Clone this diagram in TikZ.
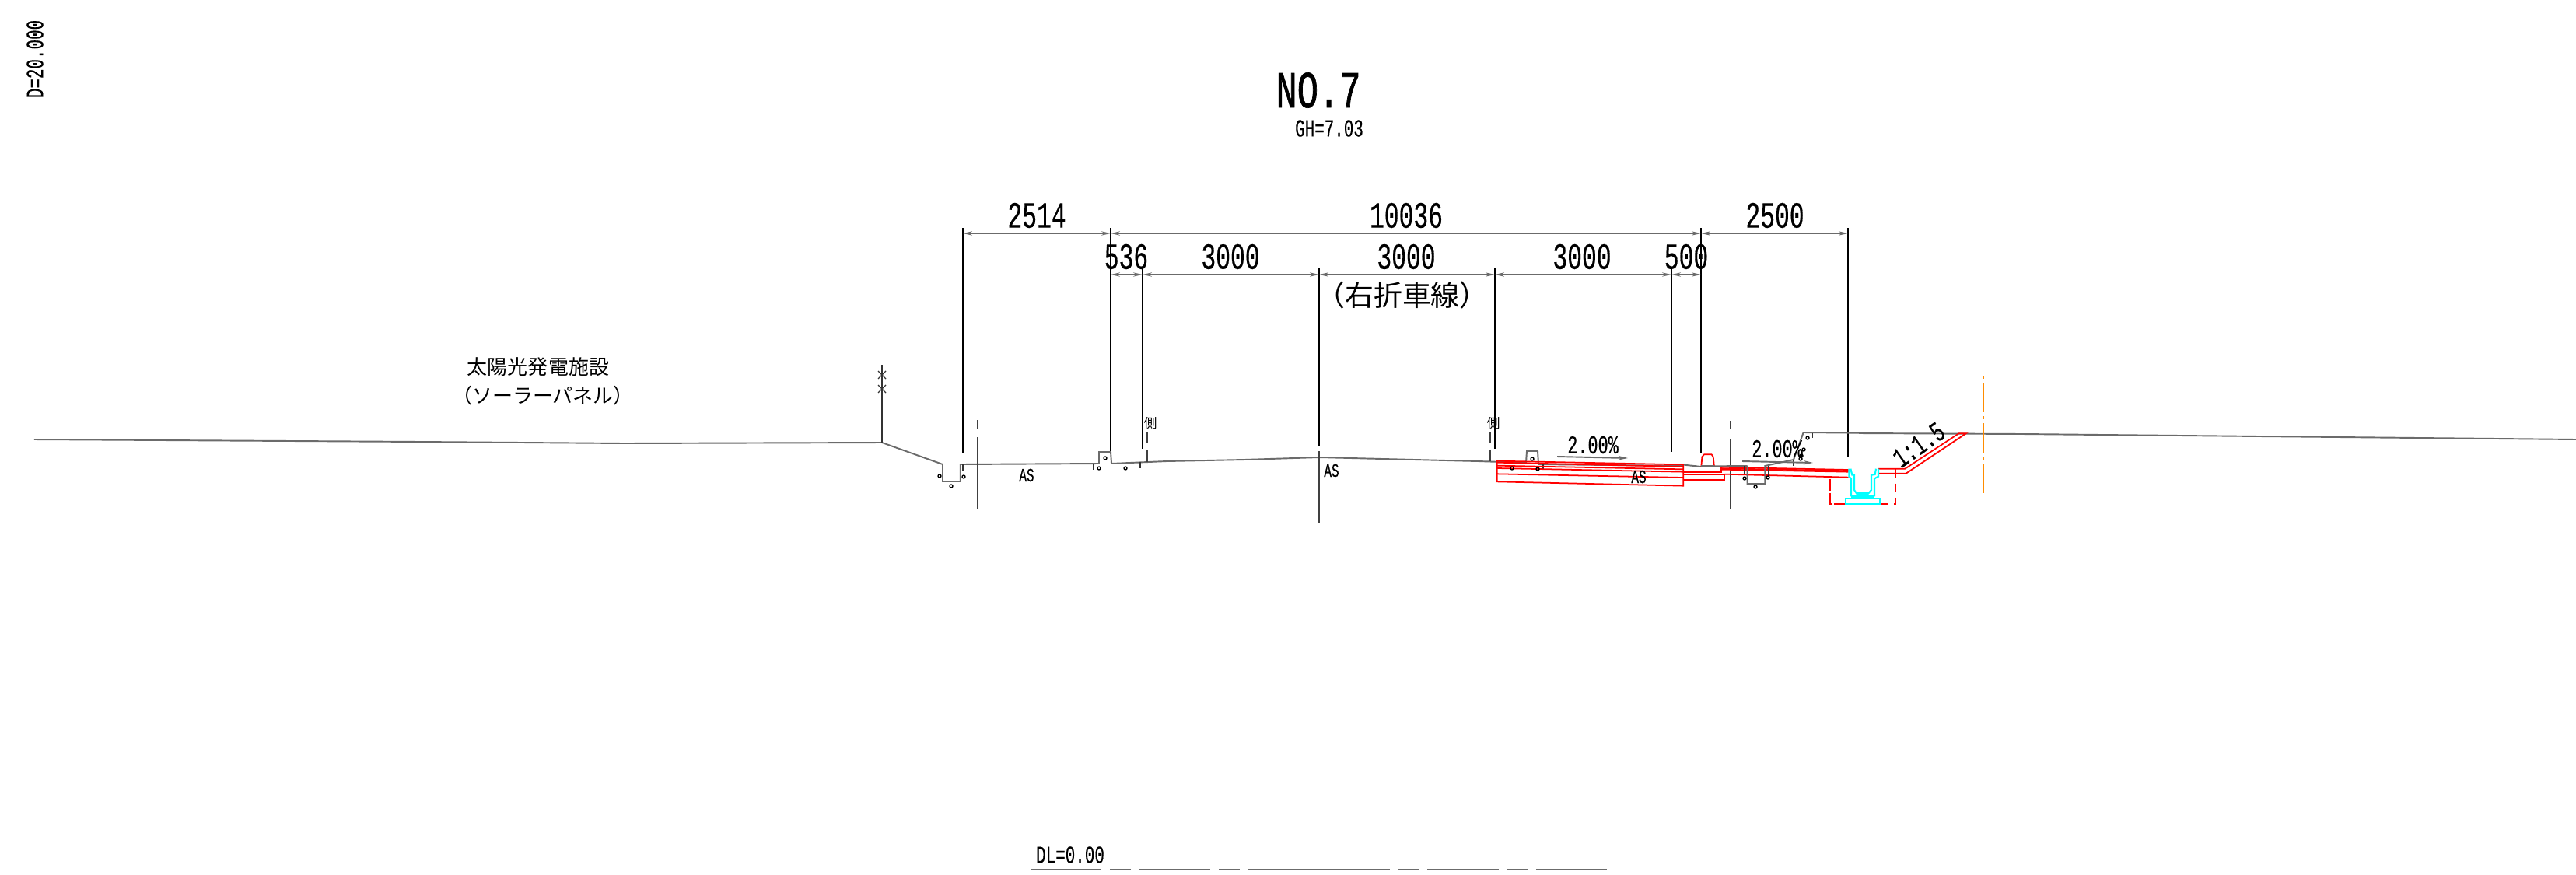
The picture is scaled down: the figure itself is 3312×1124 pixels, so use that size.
\documentclass[tikz,border=0pt]{standalone}
\usepackage{fontspec}
\usetikzlibrary{arrows.meta}
\setmainfont{Liberation Sans}
\newfontfamily\cadfont[FakeStretch=0.66,FakeBold=0.35]{Liberation Mono}
\newfontfamily\titlefont[FakeStretch=0.68,FakeBold=1.0]{Liberation Mono}
\newfontfamily\jpfont{Noto Sans CJK JP}
\definecolor{cadgray}{gray}{0.42}
\definecolor{cadred}{RGB}{255,0,0}
\definecolor{cadcyan}{RGB}{0,255,255}
\definecolor{cadorange}{RGB}{255,140,0}
\tikzset{
  ext/.style={black,line width=0.36pt},
  ground/.style={cadgray,line width=0.55pt},
  dimline/.style={cadgray,line width=0.5pt,{Stealth[length=3.4pt,width=1.5pt]}-{Stealth[length=3.4pt,width=1.5pt]}},
  slopearrow/.style={cadgray,line width=0.55pt,-{Stealth[length=3.4pt,width=1.5pt]}},
  redline/.style={cadred,line width=0.5pt},
  reddash/.style={cadred,line width=0.6pt,dash pattern=on 3pt off 2.2pt},
  cyanline/.style={cadcyan,line width=0.6pt},
  thin line/.style={black!80,line width=0.36pt},
  dashdot/.style={black!75,line width=0.4pt},
  orangeline/.style={cadorange,line width=0.7pt,dash pattern=on 10.8pt off 1.42pt on 1.14pt off 1.42pt},
  bolt/.style={black,line width=0.38pt},
  txt/.style={inner sep=0pt,outer sep=0pt,text=black},
  dimtxt/.style={txt,font=\cadfont\fontsize{13.5pt}{13.5pt}\selectfont},
  slopetxt/.style={txt,font=\cadfont\fontsize{9.4pt}{9.4pt}\selectfont},
  smalltxt/.style={txt,font=\cadfont\fontsize{9pt}{9pt}\selectfont},
  astxt/.style={txt,font=\cadfont\fontsize{6.9pt}{6.9pt}\selectfont},
  jptxt/.style={txt,font=\jpfont\fontsize{7.4pt}{7.4pt}\selectfont},
  jpbig/.style={txt,font=\jpfont\fontsize{10.5pt}{10.5pt}\selectfont},
  sidetxt/.style={txt,font=\jpfont\fontsize{4.8pt}{4.8pt}\selectfont},
  zoomA/.style={shift={(1880,500)},scale=1/3},
  zoomB/.style={shift={(2130,500)},scale=1/3},
  zoomC/.style={shift={(2300,480)},scale=1/3},
}
\begin{document}
\begin{tikzpicture}[x=0.01cm,y=-0.01cm]
\useasboundingbox (0,0) rectangle (3312,1124);
\fill[white] (0,0) rectangle (3312,1124);

% titles
\node[txt,font=\titlefont\fontsize{19pt}{19pt}\selectfont] (title) at (1695,116) {NO.7};
\node[smalltxt] (gh) at (1709,165) {GH=7.03};
\node[smalltxt,rotate=90] (depth) at (45,76) {D=20.000};
\node[smalltxt] (dl) at (1376,1099) {DL=0.00};
\foreach \a/\b in {1325/1416,1427/1454,1465/1556,1567/1594,1604/1787,1798/1825,1835/1927,1938/1965,1975/2066}
  \draw[ground] (\a,1118) -- (\b,1118);

% extension lines
\draw[ext] (1238,293) -- (1238,582);
\draw[ext] (1428,293) -- (1428,580);
\draw[ext] (1469,345) -- (1469,577);
\draw[ext] (1696,345) -- (1696,573);
\draw[ext] (1922,345) -- (1922,577);
\draw[ext] (2149,345) -- (2149,581);
\draw[ext] (2187,293) -- (2187,583);
\draw[ext] (2376,293) -- (2376,587);

% dimension lines
\coordinate (t1) at (1238,300); \coordinate (t2) at (1428,300);
\coordinate (t3) at (2187,300); \coordinate (t4) at (2376,300);
\draw[dimline] (t1) -- (t2);
\draw[dimline] (t2) -- (t3);
\draw[dimline] (t3) -- (t4);
\coordinate (u1) at (1428,353); \coordinate (u2) at (1469,353);
\coordinate (u3) at (1696,353); \coordinate (u4) at (1922,353);
\coordinate (u5) at (2149,353); \coordinate (u6) at (2187,353);
\draw[dimline] (u1) -- (u2);
\draw[dimline] (u2) -- (u3);
\draw[dimline] (u3) -- (u4);
\draw[dimline] (u4) -- (u5);
\draw[dimline] (u5) -- (u6);

\node[dimtxt] (n2514) at (1333,277) {2514};
\node[dimtxt] (n10036) at (1808,277) {10036};
\node[dimtxt] (n2500) at (2282,277) {2500};
\node[dimtxt] (n536) at (1448,330) {536};
\node[dimtxt] (n3000a) at (1582,330) {3000};
\node[dimtxt] (n3000b) at (1808,330) {3000};
\node[dimtxt] (n3000c) at (2034,330) {3000};
\node[dimtxt] (n500) at (2168,330) {500};
\node[jpbig] (rt) at (1803,379) {（右折車線）};

% Japanese notes
\node[jptxt] (solar) at (692,472) {太陽光発電施設};
\node[jptxt] (panel) at (698,509) {（ソーラーパネル）};

% ground, left part
\draw[ground] (44,565) -- (540,568) -- (802,570) -- (1134,569) -- (1212,597);
\draw[thin line] (1134,469) -- (1134,569);
\draw[thin line] (1129,477) -- (1139,487) (1129,487) -- (1139,477);
\draw[thin line] (1129,495) -- (1139,505) (1129,505) -- (1139,495);
\draw[ground] (1212,597) -- (1212,619) -- (1234.7,619) -- (1234.7,597) -- (1413,596) -- (1413,581) -- (1428,581) -- (1429,596) -- (1500,593) -- (1600,591) -- (1696,588) -- (1900,593) -- (1962,595) -- (1963,580) -- (1977,580) -- (1978,597);
\draw[ground] (1978,597) -- (2164,599);

% short ticks
\draw[thin line] (1238,597) -- (1238,605);
\draw[thin line] (1406,596) -- (1406,604);
\draw[thin line] (1466,594) -- (1466,602);
\draw[thin line] (1984,595) -- (1984,603);

% centre and edge lines
\draw[dashdot] (1257,540) -- (1257,552) (1257,562) -- (1257,654);
\draw[dashdot] (1696,580) -- (1696,672);
\draw[dashdot] (1475,556) -- (1475,570) (1475,578) -- (1475,594);
\draw[dashdot] (1916,556) -- (1916,570) (1916,578) -- (1916,593);
\draw[dashdot] (2225,541) -- (2225,552) (2225,564) -- (2225,655);
\node[sidetxt] (sideL) at (1479,544) {側};
\node[sidetxt] (sideR) at (1920,544) {側};

\node[astxt] (asL) at (1320,611) {AS};
\node[astxt] (asC) at (1712,605) {AS};

% red pavement, widening section
\begin{scope}[zoomA]
  \draw[redline] (134,278) -- (134,358) -- (853,374) -- (853,292) -- cycle;
  \draw[redline] (134,284) -- (853,300);
  \draw[redline] (134,296) -- (853,310);
  \draw[redline] (134,306) -- (853,320);
  \draw[redline] (134,328) -- (853,342);
\end{scope}
\node[astxt] (asR) at (2107,613) {AS};

% red pavement and curb, right part
\begin{scope}[zoomB]
  \draw[ground] (105,293) -- (172,300);
  \draw[redline,line join=round] (172,300) -- (175,262) -- (183,253) -- (212,253) -- (218,262) -- (222,300);
  \draw[ground] (172,297) -- (222,297);
  \draw[ground] (222,298) -- (350,297);
  \draw[redline] (105,322) -- (250,322) -- (250,302);
  \draw[redline] (105,330) -- (262,330) -- (262,350) -- (105,350);
  \draw[redline] (250,302) -- (740,312);
  \draw[redline] (250,307) -- (740,316);
  \draw[redline] (250,311) -- (740,320);
  \draw[redline] (262,329) -- (740,341);
  \draw[reddash] (670,347) -- (670,443) -- (730,443);
  \draw[ground] (350,297) -- (350,366) -- (418,366) -- (418,297) -- (528,273) -- (566,168) -- (780,170);
  \draw[thin line] (338,297) -- (338,330);
  \draw[thin line] (430,297) -- (430,335);
  \draw[thin line] (528,273) -- (528,298);
  \draw[thin line] (601,170) -- (601,190);
\end{scope}

% right part
\draw[ground] (2390,557) -- (2600,558) -- (3312,565);
\draw[orangeline] (2550,634) -- (2550,480);
\begin{scope}[zoomC]
  \draw[redline] (345,368) -- (448,368) -- (655,232) -- (683,232) -- (452,386) -- (345,386);
  \draw[reddash] (412,370) -- (412,503) -- (350,503);
  \draw[reddash] (220,503) -- (160,503) -- (160,405);
  \draw[cyanline] (232,368) -- (232,398) -- (240,406) -- (240,472) -- (330,472) -- (330,406) -- (345,398) -- (345,368);
  \draw[cyanline] (238,368) -- (244,392) -- (252,392) -- (252,450) -- (262,465) -- (305,465) -- (318,450) -- (318,392) -- (332,390) -- (336,368);
  \draw[cyanline] (262,458) -- (305,458);
  \draw[cyanline] (220,482) -- (350,482) -- (350,503) -- (220,503) -- cycle;
  \draw[cyanline] (240,476) -- (330,476);
\end{scope}

% slope marks
\coordinate (sa1) at (2002,587); \coordinate (sa2) at (2093,589);
\draw[slopearrow] (sa1) -- (sa2);
\node[slopetxt] (g1) at (2048,572) {2.00\%};
\coordinate (sb1) at (2240,593); \coordinate (sb2) at (2331,595);
\draw[slopearrow] (sb1) -- (sb2);
\node[slopetxt] (g2) at (2285,577) {2.00\%};
\node[txt,font=\cadfont\fontsize{10.4pt}{10.4pt}\selectfont,rotate=35] (s15) at (2467,572) {1:1.5};

% small markers
\foreach \p in {(1208,612),(1223,625),(1239,613),(1413,602),(1421,589),(1447,602),(1944,602),(1970,590),(1977,603),(2243,615),(2257,626),(2273,614),(2324,563),(2319,578),(2315,590),(2316,586)}
  \draw[bolt] \p circle[radius=2];
\end{tikzpicture}
\end{document}
